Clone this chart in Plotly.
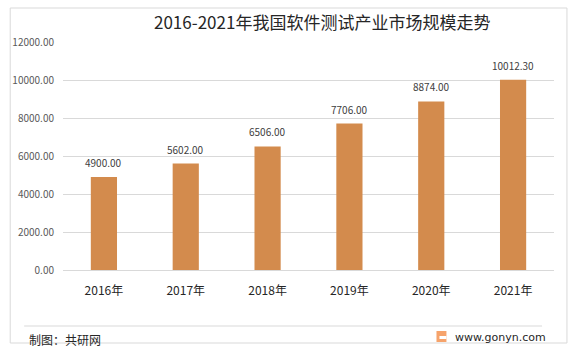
import plotly.graph_objects as go

years = ["2016年", "2017年", "2018年", "2019年", "2020年", "2021年"]
values = [4900.00, 5602.00, 6506.00, 7706.00, 8874.00, 10012.30]
y_ticks = [0, 2000, 4000, 6000, 8000, 10000, 12000]

W, H = 573, 352
L, R, T, B = 61, 554, 42, 270

def px(x):
    return (x - L) / (R - L)

def py(y):
    return (B - y) / (B - T)

font_cn = "Noto Sans CJK SC, Liberation Sans, sans-serif"

fig = go.Figure()
fig.add_trace(go.Bar(
    x=years, y=values,
    marker=dict(color="#D38B4D", line=dict(width=0)),
    width=0.32,
    cliponaxis=False,
))
for yr, v in zip(years, values):
    fig.add_annotation(
        x=yr, y=v, text=f"{v:.2f}", showarrow=False,
        yanchor="bottom", yshift=5,
        font=dict(size=10, color="#404040", family=font_cn),
    )

fig.update_layout(
    width=W, height=H,
    margin=dict(l=L, r=W - R, t=T, b=H - B, pad=0),
    paper_bgcolor="white", plot_bgcolor="white",
    showlegend=False,
    font=dict(family=font_cn),
    xaxis=dict(
        type="category", showgrid=False, showline=False, ticks="",
        tickfont=dict(size=12, color="#262626", family=font_cn),
        ticklabelstandoff=12,
    ),
    yaxis=dict(
        range=[0, 12000], tickvals=y_ticks,
        ticktext=[f"{v:.2f}" for v in y_ticks],
        showgrid=True, gridcolor="#D9D9D9", gridwidth=1,
        zeroline=True, zerolinecolor="#D9D9D9", zerolinewidth=1,
        showline=False, ticks="",
        tickfont=dict(size=10, color="#595959", family=font_cn),
        ticklabelstandoff=8,
    ),
    bargap=0.68,
)

fig.add_annotation(
    text="2016-2021年我国软件测试产业市场规模走势",
    xref="paper", yref="paper", x=px(321), y=py(22),
    xanchor="center", yanchor="middle", showarrow=False,
    font=dict(size=17, color="#262626", family=font_cn),
)

# outer border
fig.add_shape(type="rect", xref="paper", yref="paper",
              x0=px(8), x1=px(567), y0=py(343), y1=py(8),
              line=dict(color="#D9D9D9", width=1), layer="below")
# footer separator
fig.add_shape(type="line", xref="paper", yref="paper",
              x0=px(22), x1=px(542), y0=py(326), y1=py(326),
              line=dict(color="#D9D9D9", width=1))

fig.add_annotation(
    text="制图：共研网", xref="paper", yref="paper",
    x=px(25), y=py(339), xanchor="left", yanchor="middle", showarrow=False,
    font=dict(size=12, color="#262626", family=font_cn),
)
fig.add_annotation(
    text="www.gonyn.com", xref="paper", yref="paper",
    x=px(453), y=py(337), xanchor="left", yanchor="middle", showarrow=False,
    font=dict(size=11, color="#262626", family="DejaVu Sans, sans-serif"),
)
# logo
fig.add_shape(type="rect", xref="paper", yref="paper",
              x0=px(436), x1=px(446), y0=py(342), y1=py(331),
              fillcolor="#F6A36B", line=dict(width=0))
fig.add_shape(type="rect", xref="paper", yref="paper",
              x0=px(439), x1=px(446), y0=py(339), y1=py(336),
              fillcolor="white", line=dict(width=0))

fig.write_html("out.html")
